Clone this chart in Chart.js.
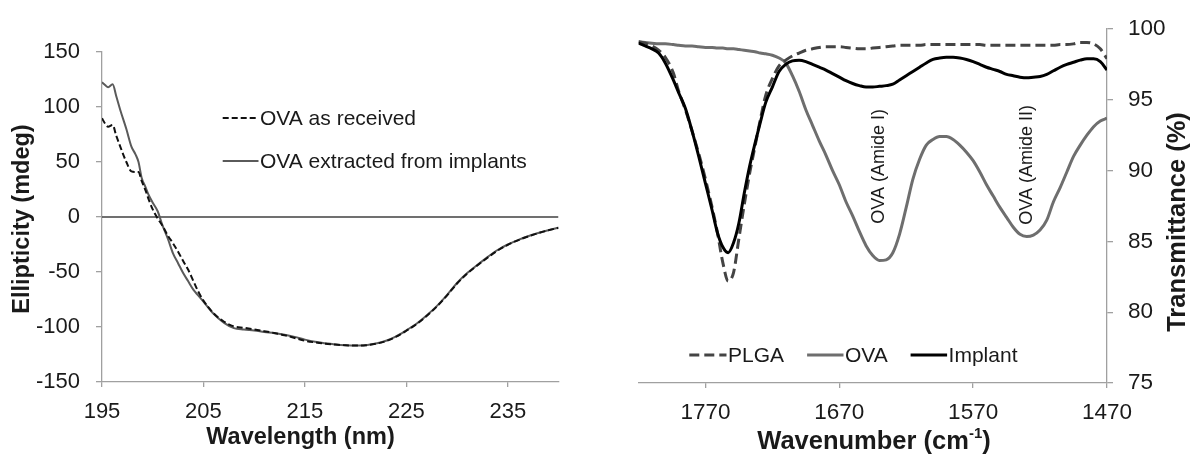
<!DOCTYPE html>
<html>
<head>
<meta charset="utf-8">
<script src="https://cdn.jsdelivr.net/npm/chart.js@4.4.1/dist/chart.umd.min.js"></script>
<style>
  html, body { margin: 0; padding: 0; background: #fff; }
  #cdBox { position: absolute; left: 0; top: 0; width: 600px; height: 457px; }
  #irBox { position: absolute; left: 600px; top: 0; width: 592px; height: 457px; }
</style>
</head>
<body>
<div id="cdBox"><canvas id="cd" width="600" height="457"></canvas></div>
<div id="irBox"><canvas id="ir" width="592" height="457"></canvas></div>
<script>
const FONT = '"Liberation Sans", Arial, sans-serif';
const AXIS = '#a0a0a0';
const TEXT = '#1a1a1a';

// --- CD spectrum (left) ---
const wavelength = [195, 195.3, 195.6, 196.05, 196.4, 196.8, 197.4, 197.9, 198.3, 198.6, 198.9, 199.3, 199.6, 200, 200.5, 200.9,
  201.5, 202, 202.5, 203, 203.5, 204, 204.5, 205, 206, 207, 208, 209, 210, 211, 212, 213, 214, 215, 216, 217, 218, 219, 220,
  221, 222, 223, 224, 225, 226, 227, 228, 229, 230, 231, 232, 233, 234, 235, 236, 237, 238, 239, 240];
const ovaReceived = [89.7, 85, 82, 83.6, 74, 64, 50, 41.5, 41, 41, 33, 24, 16, 7, -1.5, -7,
  -17, -24, -31.5, -40, -48, -58, -68, -76, -87.5, -95, -99.5, -100.8, -102.2, -103.8, -105.5, -107.5, -110, -112.5, -114, -115.2, -116, -116.6, -116.9,
  -116.6, -115.2, -112.8, -108.8, -103.4, -97.4, -90, -81.5, -71.5, -60.5, -51.5, -44, -37, -30.5, -25.3, -21.2, -17.7, -14.7, -12.1, -9.8];
const ovaExtracted = [122.5, 120, 117.9, 120.6, 110, 97.3, 80, 64, 57, 50, 36, 27, 20, 13, 5, -6,
  -20, -33, -42, -51, -58.5, -66, -71.5, -77, -88, -96, -101, -102.3, -103.2, -104.5, -105.6, -107, -109, -111.5, -113.5, -114.8, -115.8, -116.5, -116.8,
  -116.5, -115, -112.5, -108.5, -103, -97, -89.5, -81, -71, -60, -51, -43.6, -36.5, -30, -25, -21, -17.5, -14.5, -12, -9.7];
const cdTicks = [195, 205, 215, 225, 235];

// --- FTIR spectrum (right) ---
const wavenumber = [1820, 1815, 1810, 1805, 1800, 1794, 1790, 1785, 1780, 1775, 1770, 1765, 1761, 1757, 1753, 1749, 1745, 1741, 1737,
  1733, 1729, 1725, 1720, 1715, 1710, 1705, 1700, 1695, 1690, 1685, 1680, 1675, 1670, 1665, 1660, 1655, 1650, 1645, 1640, 1635,
  1630, 1625, 1620, 1615, 1610, 1605, 1600, 1595, 1590, 1585, 1580, 1575, 1570, 1565, 1560, 1555, 1550, 1545, 1540, 1535, 1530,
  1525, 1520, 1515, 1510, 1505, 1500, 1495, 1490, 1485, 1480, 1475, 1470];
const plga = [99.1, 99.0, 98.8, 98.5, 98.0, 96.9, 95.6, 94.3, 92.8, 91.2, 89.4, 87.4, 85.6, 83.5, 82.2, 82.8, 85.2, 87.6, 89.8,
  91.7, 93.6, 95.3, 96.5, 97.4, 97.8, 98.1, 98.3, 98.5, 98.6, 98.7, 98.75, 98.75, 98.75, 98.7, 98.65, 98.6, 98.6, 98.65, 98.7, 98.75,
  98.8, 98.85, 98.85, 98.85, 98.85, 98.9, 98.9, 98.9, 98.9, 98.9, 98.9, 98.9, 98.9, 98.9, 98.85, 98.85, 98.85, 98.85, 98.85, 98.85, 98.85,
  98.85, 98.85, 98.85, 98.85, 98.9, 98.9, 98.95, 99.05, 99.05, 98.95, 98.6, 97.9];
const ova = [99.1, 99.05, 99.0, 98.95, 98.95, 98.9, 98.85, 98.8, 98.8, 98.75, 98.7, 98.7, 98.65, 98.65, 98.6, 98.6, 98.55, 98.5, 98.45,
  98.4, 98.3, 98.25, 98.15, 97.95, 97.6, 96.7, 95.6, 94.3, 93.2, 92.1, 91.1, 90.0, 89.0, 87.8, 86.8, 85.7, 84.7, 84.0, 83.65, 83.7,
  84.2, 85.5, 87.4, 89.4, 90.8, 91.8, 92.2, 92.4, 92.4, 92.2, 91.8, 91.3, 90.7, 89.9, 89.0, 88.2, 87.4, 86.7, 86.0, 85.5, 85.35,
  85.45, 85.8, 86.5, 87.8, 88.8, 89.9, 91.0, 91.8, 92.5, 93.1, 93.5, 93.7];
const implant = [99.0, 98.8, 98.6, 98.3, 97.6, 96.4, 95.5, 94.4, 92.8, 91.0, 89.1, 87.2, 85.6, 84.6, 84.2, 84.9, 86.3, 88.4, 90.3,
  91.9, 93.4, 94.8, 95.9, 97.0, 97.5, 97.75, 97.8, 97.7, 97.5, 97.3, 97.1, 96.85, 96.6, 96.35, 96.15, 96.0, 95.9, 95.9, 95.95, 96.0,
  96.1, 96.4, 96.7, 97.0, 97.3, 97.6, 97.85, 97.95, 98.0, 98.0, 97.95, 97.85, 97.7, 97.5, 97.3, 97.15, 97.0, 96.8, 96.7, 96.6, 96.55,
  96.6, 96.65, 96.8, 97.05, 97.3, 97.5, 97.65, 97.8, 97.9, 97.9, 97.7, 97.1];
const irTicks = [1770, 1670, 1570, 1470];
const amideLabels = ['OVA (Amide I)', 'OVA (Amide II)'];
const amideWn = [1640, 1530];
const amideY = [90.3, 90.4];

function pts(xs, ys) {
  return xs.map((x, i) => ({ x: x, y: ys[i] }));
}

// legend, axis titles and peak labels drawn on top of the charts
const decor = {
  id: 'decor',
  afterDraw(chart, args, opts) {
    const ctx = chart.ctx;
    ctx.save();
    (opts.legend || []).forEach(item => {
      const ds = chart.data.datasets[item.ds];
      ctx.beginPath();
      ctx.strokeStyle = ds.borderColor;
      ctx.lineWidth = ds.borderWidth;
      ctx.setLineDash(ds.borderDash || []);
      ctx.moveTo(item.x0, item.y);
      ctx.lineTo(item.x1, item.y);
      ctx.stroke();
      ctx.setLineDash([]);
      ctx.fillStyle = TEXT;
      ctx.font = opts.legendFont;
      ctx.textAlign = 'left';
      ctx.textBaseline = 'middle';
      ctx.fillText(ds.label, item.x1 + 1.5, item.y + 1);
    });
    (opts.titles || []).forEach(t => {
      ctx.save();
      ctx.translate(t.x, t.y);
      ctx.rotate(t.rot || 0);
      ctx.textAlign = 'left';
      ctx.textBaseline = 'middle';
      ctx.fillStyle = TEXT;
      let w = 0;
      t.parts.forEach(p => { ctx.font = p.font; p.w = ctx.measureText(p.text).width; w += p.w; });
      let x = -w / 2;
      t.parts.forEach(p => {
        ctx.font = p.font;
        ctx.fillText(p.text, x, p.dy || 0);
        x += p.w;
      });
      ctx.restore();
    });
    if (opts.peaks) {
      const sx = chart.scales.x, sy = chart.scales.y;
      ctx.font = '18px ' + FONT;
      ctx.fillStyle = TEXT;
      ctx.textAlign = 'center';
      ctx.textBaseline = 'middle';
      amideLabels.forEach((label, i) => {
        ctx.save();
        ctx.translate(sx.getPixelForValue(amideWn[i]), sy.getPixelForValue(amideY[i]));
        ctx.rotate(-Math.PI / 2);
        ctx.fillText(label, 0, 0);
        ctx.restore();
      });
    }
    ctx.restore();
  }
};

function axisGrid(len) {
  return { display: true, drawOnChartArea: false, drawTicks: true, tickLength: len, color: AXIS, lineWidth: 1.3 };
}

// left chart
new Chart(document.getElementById('cd'), {
  type: 'line',
  data: {
    datasets: [
      {
        label: 'OVA as received',
        data: pts(wavelength, ovaReceived),
        borderColor: '#111111',
        borderWidth: 2,
        borderDash: [6, 3]
      },
      {
        label: 'OVA extracted from implants',
        data: pts(wavelength, ovaExtracted),
        borderColor: '#5a5a5a',
        borderWidth: 2
      },
      {
        label: 'zero',
        data: pts([195, 240], [0, 0]),
        borderColor: '#404040',
        borderWidth: 1.5
      }
    ]
  },
  plugins: [decor],
  options: {
    responsive: false,
    animation: false,
    layout: { padding: { top: 52, right: 41.5, left: 0, bottom: 0 } },
    elements: {
      point: { radius: 0 },
      line: { cubicInterpolationMode: 'monotone', borderJoinStyle: 'round' }
    },
    scales: {
      x: {
        type: 'linear',
        min: 195,
        max: 240,
        afterBuildTicks: s => { s.ticks = cdTicks.map(v => ({ value: v })); },
        afterFit: s => { s.height = 75; },
        grid: axisGrid(5),
        border: { display: true, color: AXIS, width: 1.3 },
        ticks: { font: { family: FONT, size: 22 }, color: TEXT, padding: 11.5, maxRotation: 0, callback: v => String(v) }
      },
      y: {
        min: -150,
        max: 150,
        afterFit: s => { s.width = 102; },
        grid: axisGrid(6),
        border: { display: true, color: AXIS, width: 1.3 },
        ticks: { stepSize: 50, font: { family: FONT, size: 22 }, color: TEXT, padding: 16, callback: v => String(v) }
      }
    },
    plugins: {
      legend: { display: false },
      tooltip: { enabled: false },
      decor: {
        legendFont: '21px ' + FONT,
        legend: [
          { ds: 0, x0: 222.7, x1: 258.5, y: 118 },
          { ds: 1, x0: 222.7, x1: 258.5, y: 161 }
        ],
        titles: [
          { parts: [{ text: 'Ellipticity (mdeg)', font: 'bold 23.5px ' + FONT }], x: 23, y: 219, rot: -Math.PI / 2 },
          { parts: [{ text: 'Wavelength (nm)', font: 'bold 23.5px ' + FONT }], x: 300.5, y: 438 }
        ]
      }
    }
  }
});

// right chart
new Chart(document.getElementById('ir'), {
  type: 'line',
  data: {
    datasets: [
      {
        label: 'PLGA',
        data: pts(wavenumber, plga),
        borderColor: '#444444',
        borderWidth: 3,
        borderDash: [10, 5],
        order: 1
      },
      {
        label: 'OVA',
        data: pts(wavenumber, ova),
        borderColor: '#6e6e6e',
        borderWidth: 3,
        order: 2
      },
      {
        label: 'Implant',
        data: pts(wavenumber, implant),
        borderColor: '#000000',
        borderWidth: 3,
        order: 0
      }
    ]
  },
  plugins: [decor],
  options: {
    responsive: false,
    animation: false,
    layout: { padding: { top: 29, left: 38.5, right: 0, bottom: 0 } },
    elements: {
      point: { radius: 0 },
      line: { cubicInterpolationMode: 'monotone', borderJoinStyle: 'round' }
    },
    scales: {
      x: {
        type: 'linear',
        reverse: true,
        min: 1470,
        max: 1820,
        afterBuildTicks: s => { s.ticks = irTicks.map(v => ({ value: v })); },
        afterFit: s => { s.height = 74; },
        grid: axisGrid(5),
        border: { display: true, color: AXIS, width: 1.3 },
        ticks: { font: { family: FONT, size: 22.5 }, color: TEXT, padding: 11.5, maxRotation: 0, callback: v => String(v) }
      },
      y: {
        position: 'right',
        min: 75,
        max: 100,
        afterFit: s => { s.width = 85; },
        grid: axisGrid(6),
        border: { display: true, color: AXIS, width: 1.3 },
        ticks: { stepSize: 5, font: { family: FONT, size: 22.5 }, color: TEXT, padding: 15, callback: v => String(v) }
      }
    },
    plugins: {
      legend: { display: false },
      tooltip: { enabled: false },
      decor: {
        legendFont: '21px ' + FONT,
        peaks: true,
        legend: [
          { ds: 0, x0: 89.3, x1: 126.5, y: 355 },
          { ds: 1, x0: 207.1, x1: 243.5, y: 355 },
          { ds: 2, x0: 310.6, x1: 347.1, y: 355 }
        ],
        titles: [
          { parts: [{ text: 'Transmittance (%)', font: 'bold 25.5px ' + FONT }], x: 578, y: 222, rot: -Math.PI / 2 },
          {
            parts: [
              { text: 'Wavenumber (cm', font: 'bold 25.5px ' + FONT },
              { text: '-1', font: 'bold 15px ' + FONT, dy: -8 },
              { text: ')', font: 'bold 25.5px ' + FONT }
            ],
            x: 274, y: 442
          }
        ]
      }
    }
  }
});
</script>
</body>
</html>
